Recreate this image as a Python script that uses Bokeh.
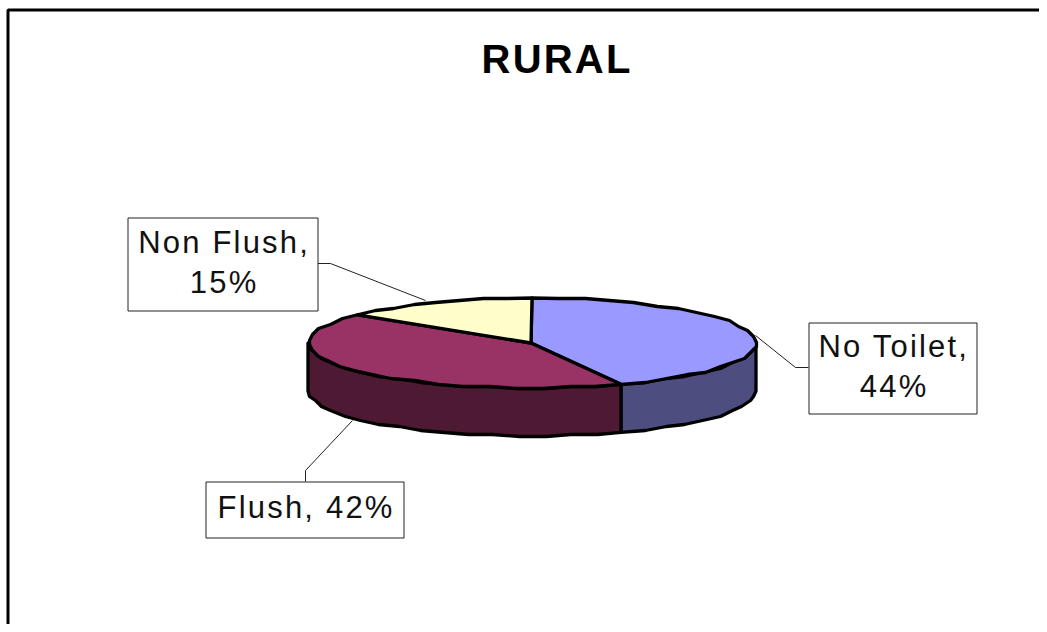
import math
from bokeh.plotting import figure
from bokeh.models import Range1d
from bokeh.embed import file_html
from bokeh.resources import INLINE
from bokeh.core.properties import value

TITLE = "RURAL"
categories = ["No Toilet", "Flush", "Non Flush"]
slice_shares = [43.5, 42.3, 14.2]          # sector sizes
label_percents = [44, 42, 15]              # printed labels
top_colors = ["#9999FF", "#993366", "#FFFFCC"]
wall_colors = ["#4D4D80", "#4D1933", "#808066"]

# layout (px)
W, H = 1039, 624
CX, CY, RX, RY, DEPTH = 531.5, 342.5, 224, 45, 48
FONT = value("Liberation Sans")
SPACING = 2.2

p = figure(width=W, height=H, output_backend="svg", toolbar_location=None,
           x_range=Range1d(0, W), y_range=Range1d(H, 0),
           min_border=0, min_border_left=0, min_border_right=0,
           min_border_top=0, min_border_bottom=0,
           outline_line_color=None,
           background_fill_color="white", border_fill_color="white",
           styles={"letter-spacing": f"{SPACING}px"})
p.axis.visible = False
p.grid.visible = False


def pt(deg, dy=0.0):
    a = math.radians(deg)
    x = CX + RX * math.sin(a)
    y = CY - RY * math.cos(a) + dy
    return x, y


def arc(a0, a1, dy=0.0, step=7.0):
    n = max(2, int(abs(a1 - a0) / step) + 1)
    out = []
    for i in range(n + 1):
        d = a0 + (a1 - a0) * i / n
        x, y = pt(d, dy)
        if 0 < i < n:
            y = round(y / 2.0) * 2.0
            x = round(x / 3.0) * 3.0
        out.append((x, y))
    return out


# sector boundaries clockwise from 12 o'clock
total = sum(slice_shares)
bounds = [0.0]
for s in slice_shares:
    bounds.append(bounds[-1] + s / total * 360)

# walls: only the front half (90..270 degrees) is visible
for i in range(3):
    a0, a1 = max(bounds[i], 90), min(bounds[i + 1], 270)
    if a1 <= a0:
        continue
    front = arc(a0, a1)
    bottom = arc(a1, a0, DEPTH)
    xs = [q[0] for q in front + bottom]
    ys = [q[1] for q in front + bottom]
    p.patch(xs, ys, fill_color=wall_colors[i], line_color="black", line_width=3.3, line_join="round")

# top faces
for i in range(3):
    pts = [(CX - 1, CY)] + arc(bounds[i], bounds[i + 1])
    p.patch([q[0] for q in pts], [q[1] for q in pts], fill_color=top_colors[i],
            line_color="black", line_width=3.3, line_join="round")

# frame (open at right and bottom)
p.line([7.5, 7.5, W], [H, 9.5, 9.5], line_color="black", line_width=3)

# leaders
p.line([317, 330, 425], [263, 263, 300], line_color="#222222", line_width=1)
p.line([808, 795, 755], [367, 367, 335], line_color="#222222", line_width=1)
p.line([305, 305, 352], [481, 470, 420], line_color="#222222", line_width=1)

# label boxes
boxes = [(808.5, 976.5, 322.5, 413.5), (205.5, 403.5, 481.5, 537.5), (127.5, 317.5, 217.5, 310.5)]
texts = [
    [f"{categories[0]},", f"{label_percents[0]}%"],
    [f"{categories[1]}, {label_percents[1]}%"],
    [f"{categories[2]},", f"{label_percents[2]}%"],
]
for (l, r, t, b), lines in zip(boxes, texts):
    p.quad(left=l, right=r, top=t, bottom=b, fill_color="white", line_color="#222222", line_width=1)
    mid = (t + b) / 2 - 2.5
    for j, s in enumerate(lines):
        y = mid + (j - (len(lines) - 1) / 2) * 40
        # letter-spacing is not in Bokeh's own text measure, so centre by hand
        x = (l + r) / 2 - (len(s) - 1) * SPACING / 2
        p.text([x], [y], text=[s], text_font=FONT, text_font_size="31px",
               text_align="center", text_baseline="middle", text_color="#111111")

p.text([555.5 - (len(TITLE) - 1) * SPACING / 2], [58], text=[TITLE], text_font=FONT, text_font_style="bold",
       text_font_size="40px", text_align="center", text_baseline="middle", text_color="#000000")

open("out.html", "w").write(file_html(p, INLINE))
